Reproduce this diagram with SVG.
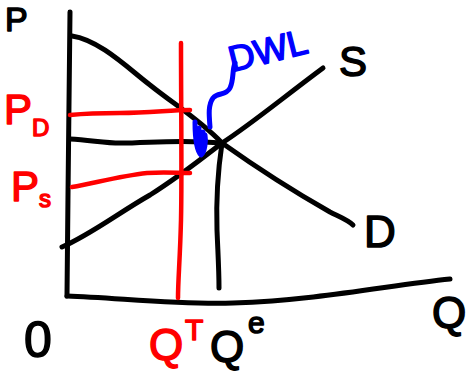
<svg xmlns="http://www.w3.org/2000/svg" width="470" height="371" viewBox="0 0 470 371">
<style>
.k{fill:none;stroke:#000;stroke-width:5;stroke-linecap:round;stroke-linejoin:round}
.r{fill:none;stroke:#f00;stroke-width:4.5;stroke-linecap:round;stroke-linejoin:round}
.b{fill:none;stroke:#00f;stroke-width:5;stroke-linecap:round;stroke-linejoin:round}
.t{font-family:"Liberation Sans",Arial,sans-serif;stroke-width:1.5;stroke-linejoin:round}
.tk{fill:#000;stroke:#000}
.tr{fill:#f00;stroke:#f00}
.tb{fill:#00f;stroke:#00f}
</style>
<rect width="470" height="371" fill="#fff"/>
<g id="axes">
<path class="k" d="M70,12 C69,80 68,200 67,296"/>
<path class="k" d="M67,296 C120,298 180,305 233,303 C320,300 390,285 450,279"/>
</g>
<g id="connectors">
<path class="k" d="M72,36 C100,40 130,70 150,85 C175,105 200,120 222,143 C260,170 300,195 330,212 C340,217 348,220 353,225"/>
<path class="k" d="M62,247 C90,235 120,212 150,195 C180,176 200,160 222,143 C250,125 280,100 323,68"/>
<path class="k" d="M70,139 C90,140 105,143 120,143 C150,143 180,139 222,143"/>
<path class="k" d="M222,143 C218,170 216,200 217,230 C218,255 219,270 219,288"/>
<path class="r" d="M181,43 C181,100 182,180 181,220 C180,260 178,280 178,298"/>
<path class="r" d="M70,115 C90,113 105,113 120,113 C150,113 170,110 190,110"/>
<path class="r" d="M72,187 C95,183 120,176 147,173 C165,172 178,173 190,173"/>
<path class="b" d="M195,122 C195,135 196,150 201,155 C205,152 206,140 205,135" fill="#00f"/>
<path class="b" d="M199,128 L199,150 M203,132 L203,150"/>
<path class="b" d="M210,127 C209,115 208,105 213,98 C218,92 226,96 230,88 C234,80 232,70 235,63"/>
</g>
<g id="labels">
<text class="t tk" x="5" y="31" font-size="34">P</text>
<text class="t tr" x="4" y="124" font-size="42">P</text>
<text class="t tr" x="32" y="136" font-size="24">D</text>
<text class="t tr" x="11" y="201" font-size="42">P</text>
<text class="t tr" x="39" y="207" font-size="24">s</text>
<text class="t tb" x="232" y="72" font-size="36" transform="rotate(-14 232 72)">DWL</text>
<text class="t tk" x="339" y="76" font-size="42">S</text>
<text class="t tk" x="364" y="247" font-size="44">D</text>
<text class="t tk" x="24" y="357" font-size="50">0</text>
<text class="t tr" x="149" y="360" font-size="44">Q</text>
<text class="t tr" x="185" y="340" font-size="30">T</text>
<text class="t tk" x="210" y="362" font-size="44">Q</text>
<text class="t tk" x="248" y="333" font-size="30">e</text>
<text class="t tk" x="432" y="328" font-size="44">Q</text>
</g>
</svg>
